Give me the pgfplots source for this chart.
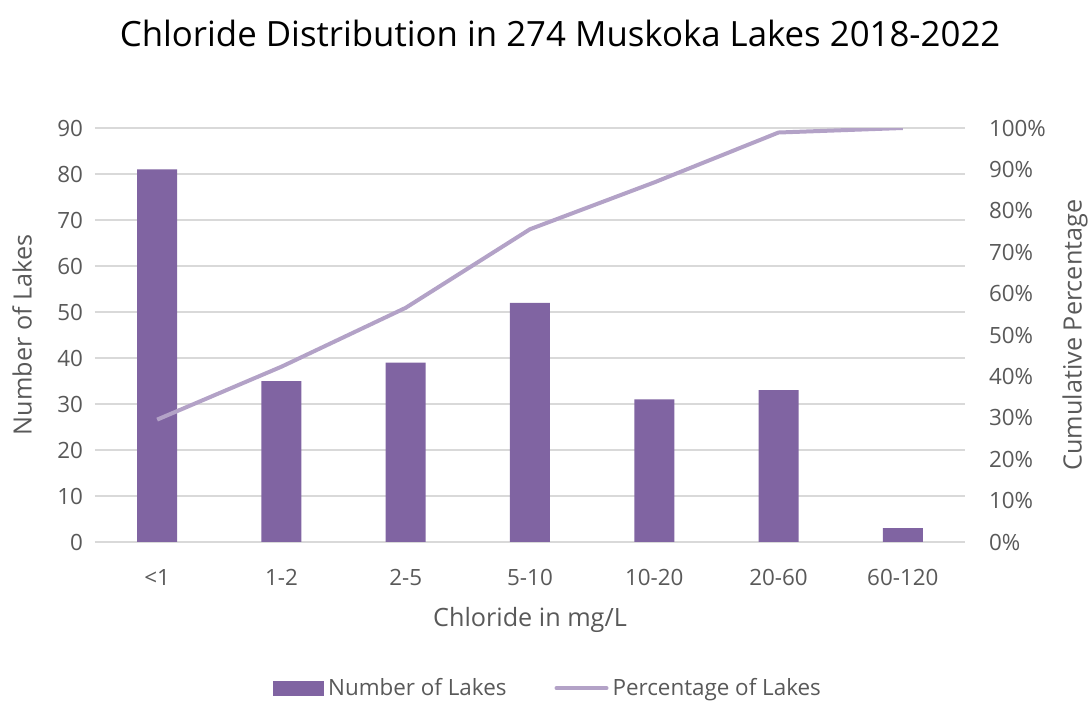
\documentclass[border=0pt]{standalone}
\usepackage{pgfplots}
\usepackage{pgfplotstable}
\pgfplotsset{compat=1.18}
\usepackage{fontspec}
\setmainfont{Open Sans}

\definecolor{barcol}{HTML}{8064A2}
\definecolor{linecol}{HTML}{B3A2C7}
\definecolor{gridcol}{HTML}{D9D9D9}
\definecolor{txt}{HTML}{595959}

% lakes per chloride class and running share of all 274 lakes
\pgfplotstableread{
idx count cum
0 81 29.56
1 35 42.34
2 39 56.57
3 52 75.55
4 31 86.86
5 33 98.91
6 3 100
}\datatable

\pgfplotsset{
  base/.style={
    at={(0,0)}, anchor=south west,
    scale only axis, width=435pt, height=207pt,
    xmin=-0.5, xmax=6.5,
    major tick length=0pt,
    /pgf/number format/assume math mode=true,
    tick label style={font=\fontsize{11.2}{13}\selectfont, text=txt},
  },
}

\begin{document}
\begin{tikzpicture}
\begin{axis}[
  base,
  ymin=0, ymax=90, ytick={0,10,...,90},
  xtick={0,...,6},
  xticklabels={{<1},{1-2},{2-5},{5-10},{10-20},{20-60},{60-120}},
  axis line style={draw=none},
  ymajorgrids, grid style={gridcol, line width=0.75pt},
  yticklabel style={xshift=-2.5pt},
  xticklabel style={yshift=-10pt},
]
\addplot[ybar, bar width=20pt, fill=barcol, draw=none]
  table[x=idx, y=count] {\datatable};
\end{axis}

\begin{axis}[
  base,
  ymin=0, ymax=100, ytick={0,10,...,100},
  axis y line*=right, hide x axis,
  axis line style={draw=none},
  yticklabel={\pgfmathprintnumber{\tick}\%},
  yticklabel style={xshift=8.5pt},
  legend columns=2,
  legend style={at={(0.522,-0.353)}, anchor=center, draw=none,
    font=\fontsize{11.2}{13}\selectfont, text=txt,
    cells={inner xsep=1.5pt},
    /tikz/every even column/.append style={column sep=22pt}},
]
\addlegendimage{legend image code/.code={\fill[barcol] (0pt,-3.5pt) rectangle (25pt,3.5pt);}}
\addlegendentry{Number of Lakes}
\addplot[linecol, line width=2pt, line join=round,
  legend image code/.code={\draw[linecol, line width=2pt, line cap=round] (0pt,0pt) -- (25pt,0pt);}]
  table[x=idx, y=cum] {\datatable};
\addlegendentry{Percentage of Lakes}
\end{axis}

\node[text=black, font=\fontsize{17.4}{20}\selectfont] at (232.5pt,254.5pt)
  {Chloride Distribution in 274 Muskoka Lakes 2018-2022};
\node[text=txt, font=\fontsize{12.6}{14}\selectfont, rotate=90] at (-36.5pt,103.5pt)
  {Number of Lakes};
\node[text=txt, font=\fontsize{12.6}{14}\selectfont, rotate=90] at (490pt,103.5pt)
  {Cumulative Percentage};
\node[text=txt, font=\fontsize{12.6}{14}\selectfont] at (217.5pt,-39pt)
  {Chloride in mg/L};

\pgfresetboundingbox
\path[use as bounding box] (-47.5pt,-80pt) rectangle (497pt,271pt);
\end{tikzpicture}
\end{document}
